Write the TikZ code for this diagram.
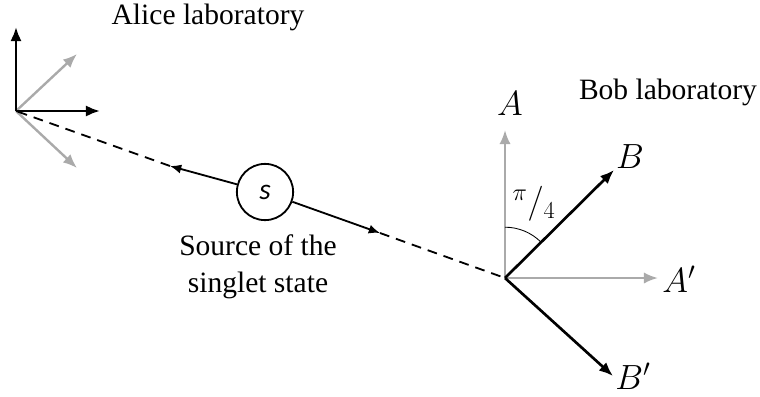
\documentclass[tikz,border=0pt]{standalone}
\usepackage{fontspec}
\setmainfont{Liberation Serif}
\newfontfamily\calfont{Carlito}
\usepackage{tikz}
\usetikzlibrary{arrows.meta,positioning,calc}
\definecolor{axisgray}{RGB}{170, 170, 170}

\begin{document}
\begin{tikzpicture}[x=0.025cm, y=-0.025cm,
    every node/.style={font=\fontsize{21}{26}\selectfont},
    mathlab/.style={font=\fontsize{24}{28}\selectfont, inner sep=0pt},
    blackaxis/.style={-{Latex[length=10pt,width=8pt]}, line width=1.9pt, black},
    grayaxis/.style={-{Latex[length=10pt,width=8pt]}, line width=1.7pt, axisgray},
    particle/.style={-{Latex[length=8pt,width=6.5pt]}, line width=1.3pt},
    path/.style={dashed, dash pattern=on 7pt off 5pt, line width=1.3pt}]
    \useasboundingbox (0,0) rectangle (760,396);

    % Alice frame
    \coordinate (alice) at (16,111);
    \coordinate (aliceUp) at (16,27);
    \coordinate (aliceRight) at (100,111);
    \coordinate (aliceUR) at (77,54);
    \coordinate (aliceDR) at (77,168);
    \draw[grayaxis] (alice) -- (aliceUR);
    \draw[grayaxis] (alice) -- (aliceDR);
    \draw[blackaxis] (alice) -- (aliceUp);
    \draw[blackaxis] (alice) -- (aliceRight);
    \node (aliceLab) at (208,17) {Alice laboratory};

    % Source
    \node[draw, circle, line width=1.3pt, minimum size=40pt, inner sep=0pt] (src) at (265,192) {\calfont\itshape s};
    \node[align=center] (srcLab) at (258,267) {Source of the\\singlet state};
    \coordinate (tipL) at (170,166);
    \coordinate (tipR) at (380,233);
    \coordinate (bob) at (505,278);
    \draw[particle] (src) -- (tipL);
    \draw[particle] (src) -- (tipR);
    \draw[path] (tipL) -- (alice);
    \draw[path] (tipR) -- (bob);

    % Bob frame
    \node (bobLab) at (668,92) {Bob laboratory};
    \node[mathlab] (labA) at (510,104) {$A$};
    \node[mathlab] (labB) at (630,157) {$B$};
    \node[mathlab] (labAp) at (679,279) {$A'$};
    \node[mathlab] (labBp) at (633,376) {$B'$};
    \coordinate (endA) at (505,130);
    \coordinate (endB) at (614,170);
    \coordinate (endAp) at (658,278);
    \coordinate (endBp) at (613,376);
    \foreach \e in {endA, endAp} {
        \draw[grayaxis] (bob) -- (\e);
    }
    \foreach \e in {endB, endBp} {
        \draw[blackaxis] (bob) -- (\e);
    }
    \draw[line width=0.6pt] (bob) ++(90:1.27cm) arc[start angle=90, end angle=45, radius=1.27cm];
    \node[mathlab, font=\fontsize{26}{30}\selectfont] (angLab) at (534,204) {$^{\pi}/_{4}$};
\end{tikzpicture}
\end{document}
